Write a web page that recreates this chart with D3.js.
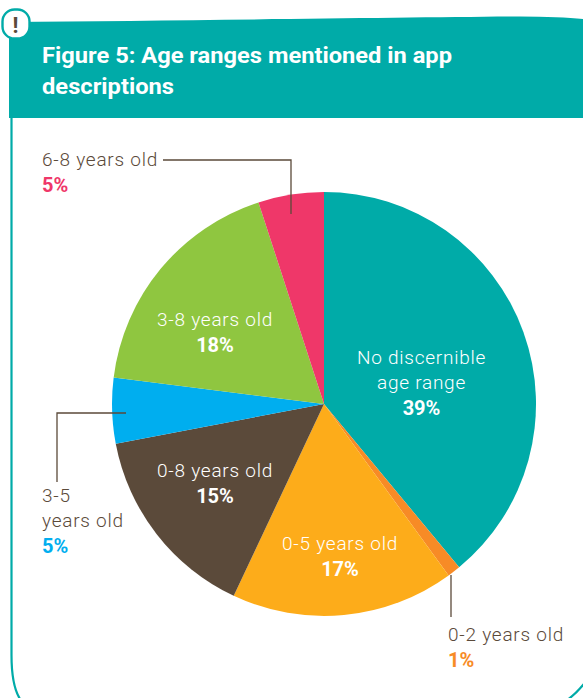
<!DOCTYPE html>
<html>
<head>
<meta charset="utf-8">
<script src="https://cdnjs.cloudflare.com/ajax/libs/d3/7.8.5/d3.min.js"></script>
<style>
  html, body { margin: 0; padding: 0; background: #fff; }
  svg { display: block; }
  text { font-family: Roboto, sans-serif; }
</style>
</head>
<body>
<svg id="chart" width="583" height="698"></svg>
<script>
// Age range shares, clockwise from twelve o'clock
const ageRanges = ["No discernible age range", "0-2 years old", "0-5 years old", "0-8 years old", "3-5 years old", "3-8 years old", "6-8 years old"];
const shares = [39, 1, 17, 15, 5, 18, 5];
const sliceColours = ["#00aba8", "#f78b26", "#fdac1a", "#5b4a3a", "#00aeef", "#8fc640", "#ef3769"];
const titleLines = ["Figure 5: Age ranges mentioned in app", "descriptions"];

const TEAL = "#00aba8", BROWN = "#5b4a3a";
const svg = d3.select("#chart");

// Panel outline with rounded lower corners
svg.append("path")
  .attr("d", "M11.5,100 L11.5,655 Q11.5,692 24,704 L560,704 Q574,698 590,676")
  .attr("fill", "none").attr("stroke", TEAL).attr("stroke-width", 2.2);

// Header band with its slightly bowed top edge
svg.append("path")
  .attr("d", "M9,22 C180,20.5 400,17.5 520,16.5 Q560,16.5 583,19 L583,118 L9,118 Z")
  .attr("fill", TEAL);

// Exclamation badge on the header's corner
svg.append("rect")
  .attr("x", 2.5).attr("y", 9.5).attr("width", 27).attr("height", 29).attr("rx", 12)
  .attr("fill", "#fff").attr("stroke", TEAL).attr("stroke-width", 2.4);
svg.append("text").attr("x", 15.5).attr("y", 33)
  .attr("text-anchor", "middle").attr("font-size", 22).attr("font-weight", 700)
  .attr("fill", BROWN).text("!");

svg.selectAll("text.title").data(titleLines).join("text")
  .attr("class", "title")
  .attr("x", 42).attr("y", (d, i) => 63 + i * 31)
  .attr("font-size", 22).attr("font-weight", 700)
  .attr("fill", "#fff").attr("textLength", (d, i) => i ? 132 : 410)
  .attr("lengthAdjust", "spacingAndGlyphs").text(d => d);

// Pie
const cx = 324, cy = 404, radius = 212;
const pie = d3.pie().value(d => d).sort(null);
const arc = d3.arc().innerRadius(0).outerRadius(radius);
const slices = pie(shares);
svg.append("g").attr("transform", `translate(${cx},${cy})`)
  .selectAll("path").data(slices).join("path")
  .attr("d", arc)
  .attr("fill", (d, i) => sliceColours[i]);

// Leader lines from the three narrow slices
const leaders = ["M163,160 H291 V214", "M57,482 V413 H126", "M451,575 V617"];
svg.selectAll("path.leader").data(leaders).join("path")
  .attr("class", "leader").attr("d", d => d)
  .attr("fill", "none").attr("stroke", BROWN).attr("stroke-width", 1.3);

// Category labels with the share underneath
const labels = [
  { x: 421.5, y: 364, anchor: "middle", fill: "#fff", lines: ["No discernible", "age range"], i: 0 },
  { x: 448, y: 641, anchor: "start", fill: BROWN, lines: ["0-2 years old"], i: 1 },
  { x: 340, y: 550, anchor: "middle", fill: "#fff", lines: ["0-5 years old"], i: 2 },
  { x: 215, y: 477, anchor: "middle", fill: "#fff", lines: ["0-8 years old"], i: 3 },
  { x: 42, y: 502, anchor: "start", fill: BROWN, lines: ["3-5", "years old"], i: 4 },
  { x: 215, y: 326, anchor: "middle", fill: "#fff", lines: ["3-8 years old"], i: 5 },
  { x: 42, y: 166, anchor: "start", fill: BROWN, lines: ["6-8 years old"], i: 6 }
];
const lineGap = 25;
labels.forEach(l => {
  const g = svg.append("g").attr("text-anchor", l.anchor).attr("data-range", ageRanges[l.i]);
  l.lines.forEach((t, k) => {
    g.append("text").attr("x", l.x).attr("y", l.y + k * lineGap)
      .attr("font-size", 19).attr("font-weight", 300).attr("letter-spacing", 0.75)
      .attr("fill", l.fill).text(t);
  });
  g.append("text").attr("x", l.x).attr("y", l.y + l.lines.length * lineGap + (l.lines.length > 1 ? 1 : 0.5))
    .attr("font-size", 20).attr("font-weight", 700)
    .attr("fill", l.fill === "#fff" ? "#fff" : sliceColours[l.i]).text(shares[l.i] + "%");
});
</script>
</body>
</html>
